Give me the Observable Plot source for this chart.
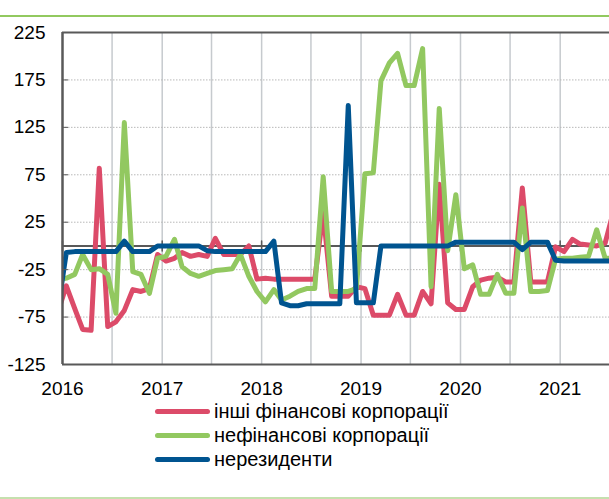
<!DOCTYPE html>
<html><head><meta charset="utf-8">
<script src="https://cdn.jsdelivr.net/npm/d3@7"></script>
<script src="https://cdn.jsdelivr.net/npm/@observablehq/plot@0.6"></script>
<style>
body{margin:0;background:#fff;font-family:"Liberation Sans",Arial,sans-serif;}
#wrap{position:relative;width:609px;height:499px;overflow:hidden;background:#fff;}
#topline{position:absolute;left:0;top:15px;width:609px;height:2px;background:#92c95f;}
#chart{position:absolute;left:0;top:18px;}
#legend{position:absolute;left:155px;top:399px;}
.row{display:flex;align-items:center;height:24px;font-size:20px;color:#000;white-space:nowrap;}
.sw{width:55px;height:5px;border-radius:3px;margin-right:4px;}
#botline{position:absolute;left:0;top:497px;width:609px;height:2px;background:#c5e0ae;}
</style></head>
<body>
<div id="wrap">
  <div id="topline"></div>
  <div id="chart"></div>
  <div id="legend"></div>
  <div id="botline"></div>
</div>
<script>
// Series names and colours
const seriesNames = ["інші фінансові корпорації", "нефінансові корпорації", "нерезиденти"];
const seriesColors = ["#dc4b69", "#92c860", "#005490"];

// Monthly observations, Dec 2015 .. Jul 2021 (first and last are clipped by the frame)
const firstMonth = [2015, 11];
const otherFin = [
  -70,
  -42, -66, -88, -89, 82, -85, -80, -68, -46, -48, -45, -9,
  -16, -13, -7, -11, -9, -11, 8, -9, -9, -9, 0, -35,
  -34, -35, -35, -35, -35, -35, -35, 35, -53, -53, -53, -43,
  -45, -73, -73, -73, -51, -73, -73, -48, -61, 65, -60, -67,
  -67, -43, -36, -34, -33, -38, -38, 61, -38, -38, -38, -1,
  -6, 7, 2, 1, 0, 3, 36
];
const nonFin = [
  -36,
  -34, -30, -9, -25, -24, -30, -71, 130, -27, -30, -50, -13,
  -11, 7, -22, -29, -32, -29, -26, -25, -24, -9, -32, -48,
  -59, -46, -57, -53, -48, -45, -45, 73, -48, -48, -48, -45,
  76, 77, 174, 193, 203, 169, 169, 208, -43, 145, -5, 54,
  -24, -20, -51, -51, -30, -50, -50, 40, -48, -48, -47, -14,
  -13, -13, -12, -11, 17, -13, -13
];
const nonRes = [
  -67,
  -7, -6, -6, -6, -6, -6, -6, 5, -6, -6, -6, 0,
  0, 0, 0, 0, 0, -5, -6, -6, -6, -6, -6, -6,
  -6, 5, -60, -63, -63, -61, -61, -61, -61, -61, 148, -60,
  -60, -60, 0, 0, 0, 0, 0, 0, 0, 0, 0, 4,
  4, 4, 4, 4, 4, 4, 4, -4, 4, 4, 4, -15,
  -16, -16, -16, -16, -16, -16, -16
];

// Axis ticks
const yTickValues = [225, 175, 125, 75, 25, -25, -75, -125];
const yearTicks = [2016, 2017, 2018, 2019, 2020, 2021];
const gridHalfYears = ["2016-07", "2017-01", "2017-07", "2018-01", "2018-07", "2019-01", "2019-07", "2020-01", "2020-07", "2021-01"];
const xDomain = ["2016-01-01", "2021-07-01"];
const yDomain = [-125, 225];

const monthDate = i => new Date(Date.UTC(firstMonth[0], firstMonth[1] + i, 15));
const rows = [];
[otherFin, nonFin, nonRes].forEach((vals, s) => {
  vals.forEach((v, i) => rows.push({date: monthDate(i), value: v, series: seriesNames[s]}));
});
const yearDates = yearTicks.map(y => new Date(Date.UTC(y, 0, 1)));
const gridDates = gridHalfYears.map(s => new Date(s + "-01T00:00:00Z"));
const xDom = xDomain.map(s => new Date(s + "T00:00:00Z"));

const frameColor = "#595959";
const straightTick = {
  draw(context, l) { context.moveTo(0, 0); context.lineTo(0, -l); }
};

const chart = Plot.plot({
  width: 609,
  height: 378,
  marginLeft: 62,
  marginRight: 0,
  marginTop: 14,
  marginBottom: 32,
  style: {fontFamily: "'Liberation Sans', Arial, sans-serif", color: "#000", background: "transparent", overflow: "visible"},
  x: {type: "utc", domain: xDom, label: null},
  y: {domain: yDomain, label: null},
  color: {domain: seriesNames, range: seriesColors},
  marks: [
    Plot.ruleX(gridDates, {x: d => d, stroke: "#c6cace", strokeWidth: 1.5}),
    Plot.ruleY(yTickValues.slice(1, -1), {y: d => d, stroke: "#b9b9b9", strokeDasharray: "1.5,1.5"}),
    Plot.ruleY([0], {y: d => d, stroke: frameColor, strokeWidth: 2}),
    Plot.vector(yearDates, {x: d => d, y: () => 0, length: 10, rotate: 0, anchor: "middle", shape: straightTick, stroke: frameColor, strokeWidth: 1.5}),
    ...seriesNames.map(name => Plot.line(rows.filter(r => r.series === name), {
      x: "date", y: "value", stroke: "series", strokeWidth: 5,
      strokeLinejoin: "round", strokeLinecap: "round", clip: true
    })),
    Plot.ruleY([yDomain[0], yDomain[1]], {y: d => d, stroke: frameColor, strokeWidth: 2}),
    Plot.ruleX([xDom[0]], {x: d => d, stroke: frameColor, strokeWidth: 2.5}),
    Plot.axisY(yTickValues, {tickSize: -6, stroke: frameColor, text: null, label: null}),
    Plot.axisY(yTickValues, {tickSize: 0, tickPadding: 17, fontSize: 19, tickFormat: d => String(d), fill: "#000", label: null}),
    Plot.axisX(yearDates, {tickSize: 0, tickPadding: 17, fontSize: 19, tickFormat: d => String(d.getUTCFullYear()), fill: "#000", label: null})
  ]
});
document.getElementById("chart").appendChild(chart);

const legend = document.getElementById("legend");
seriesNames.forEach((name, i) => {
  const row = document.createElement("div");
  row.className = "row";
  const sw = document.createElement("span");
  sw.className = "sw";
  sw.style.background = seriesColors[i];
  const tx = document.createElement("span");
  tx.textContent = name;
  row.appendChild(sw);
  row.appendChild(tx);
  legend.appendChild(row);
});
</script>
</body></html>
